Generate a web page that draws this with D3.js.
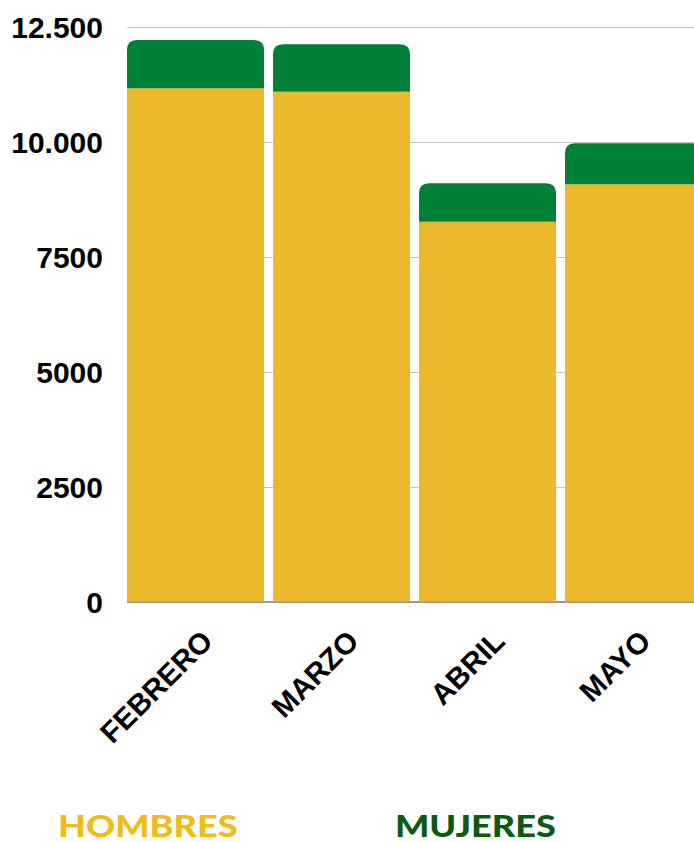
<!DOCTYPE html>
<html>
<head>
<meta charset="utf-8">
<script src="https://cdn.jsdelivr.net/npm/d3@7"></script>
<style>
  body { margin: 0; background: #fff; }
  svg { display: block; }
</style>
</head>
<body>
<div id="chart"></div>
<script>
// data
var months = ["FEBRERO", "MARZO", "ABRIL", "MAYO"];
var hombres = [11170, 11090, 8260, 9080];
var mujeres = [1045, 1035, 840, 890];
var yTicks = [0, 2500, 5000, 7500, 10000, 12500];
var tickLabels = ["0", "2500", "5000", "7500", "10.000", "12.500"];
var legendNames = ["HOMBRES", "MUJERES"];

var W = 694, H = 842;
var yellow = "#EDB92C", green = "#008037";

var svg = d3.select("#chart").append("svg")
  .attr("width", W)
  .attr("height", H);

var x = d3.scaleBand()
  .domain(months)
  .range([127, 127 + 3 * 146 + 137])
  .paddingInner(9 / 146);

var y = d3.scaleLinear()
  .domain([0, 12500])
  .range([601.5, 27]);

// gridlines
svg.selectAll("line.grid")
  .data(yTicks.slice(1))
  .enter().append("line")
  .attr("class", "grid")
  .attr("x1", 127).attr("x2", W)
  .attr("y1", function(d) { return Math.round(y(d)) + 0.5; })
  .attr("y2", function(d) { return Math.round(y(d)) + 0.5; })
  .attr("stroke", "#c4c4c4")
  .attr("stroke-width", 1.2);

// baseline
svg.append("line")
  .attr("x1", 127).attr("x2", W)
  .attr("y1", y(0) + 0.5).attr("y2", y(0) + 0.5)
  .attr("stroke", "#777").attr("stroke-width", 1.5);

// y labels
svg.selectAll("text.ytick")
  .data(yTicks)
  .enter().append("text")
  .attr("class", "ytick")
  .attr("x", 103)
  .attr("y", function(d) { return y(d) + 11; })
  .attr("text-anchor", "end")
  .style("font-family", "'Liberation Sans', Arial, sans-serif")
  .style("font-weight", "bold")
  .style("font-size", "30px")
  .attr("fill", "#000")
  .text(function(d, i) { return tickLabels[i]; });

// hombres bars
svg.selectAll("rect.h")
  .data(hombres)
  .enter().append("rect")
  .attr("class", "h")
  .attr("x", function(d, i) { return x(months[i]); })
  .attr("y", function(d) { return y(d); })
  .attr("width", x.bandwidth())
  .attr("height", function(d) { return y(0) - y(d); })
  .attr("fill", yellow);

// mujeres on top, rounded top corners
var r = 10;
svg.selectAll("path.m")
  .data(mujeres)
  .enter().append("path")
  .attr("class", "m")
  .attr("fill", green)
  .attr("d", function(d, i) {
    var x0 = x(months[i]), x1 = x0 + x.bandwidth();
    var yb = y(hombres[i]), yt = y(hombres[i] + d);
    return "M" + x0 + "," + yb +
      "V" + (yt + r) +
      "Q" + x0 + "," + yt + " " + (x0 + r) + "," + yt +
      "H" + (x1 - r) +
      "Q" + x1 + "," + yt + " " + x1 + "," + (yt + r) +
      "V" + yb + "Z";
  });

// x labels
svg.selectAll("text.xlab")
  .data(months)
  .enter().append("text")
  .attr("class", "xlab")
  .attr("transform", function(d) {
    return "translate(" + (x(d) + x.bandwidth() / 2 + 19) + ",643) rotate(-45)";
  })
  .attr("text-anchor", "end")
  .style("font-family", "'Liberation Sans', Arial, sans-serif")
  .style("font-weight", "bold")
  .style("font-size", "29.5px")
  .attr("fill", "#000")
  .text(function(d) { return d; });

// legend (wide geometric look: Lato stretched horizontally)
svg.selectAll("text.leg")
  .data(legendNames)
  .enter().append("text")
  .attr("class", "leg")
  .attr("transform", function(d, i) {
    return "translate(" + [58, 395][i] + ",837) scale(1.165,1)";
  })
  .style("font-family", "Lato, sans-serif")
  .style("font-weight", 900)
  .style("font-size", "31px")
  .attr("fill", function(d, i) { return ["#F0BC1A", "#0A5A10"][i]; })
  .text(function(d) { return d; });
</script>
</body>
</html>
